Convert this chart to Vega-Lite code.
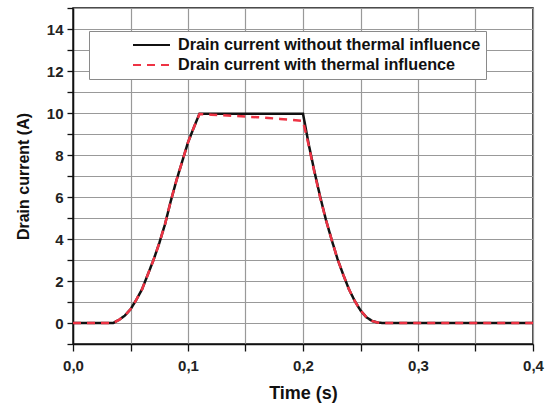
{
  "$schema": "https://vega.github.io/schema/vega-lite/v6.json",
  "width": 460,
  "height": 336,
  "autosize": "none",
  "padding": {"left": 73, "top": 8, "right": 18, "bottom": 65},
  "background": "white",
  "config": {
    "font": "Liberation Sans",
    "view": {"stroke": "#111111", "strokeWidth": 1.5}
  },
  "data": {
    "values": [
      {"t": 0, "I": 0, "series": "Drain current without thermal influence"},
      {"t": 0.035, "I": 0, "series": "Drain current without thermal influence"},
      {"t": 0.04, "I": 0.15, "series": "Drain current without thermal influence"},
      {"t": 0.045, "I": 0.35, "series": "Drain current without thermal influence"},
      {"t": 0.05, "I": 0.65, "series": "Drain current without thermal influence"},
      {"t": 0.055, "I": 1.1, "series": "Drain current without thermal influence"},
      {"t": 0.06, "I": 1.6, "series": "Drain current without thermal influence"},
      {"t": 0.065, "I": 2.3, "series": "Drain current without thermal influence"},
      {"t": 0.07, "I": 3.0, "series": "Drain current without thermal influence"},
      {"t": 0.075, "I": 3.8, "series": "Drain current without thermal influence"},
      {"t": 0.08, "I": 4.7, "series": "Drain current without thermal influence"},
      {"t": 0.085, "I": 5.8, "series": "Drain current without thermal influence"},
      {"t": 0.09, "I": 6.8, "series": "Drain current without thermal influence"},
      {"t": 0.095, "I": 7.7, "series": "Drain current without thermal influence"},
      {"t": 0.1, "I": 8.6, "series": "Drain current without thermal influence"},
      {"t": 0.105, "I": 9.3, "series": "Drain current without thermal influence"},
      {"t": 0.11, "I": 9.97, "series": "Drain current without thermal influence"},
      {"t": 0.2, "I": 9.97, "series": "Drain current without thermal influence"},
      {"t": 0.205, "I": 8.5, "series": "Drain current without thermal influence"},
      {"t": 0.21, "I": 7.2, "series": "Drain current without thermal influence"},
      {"t": 0.215, "I": 6.0, "series": "Drain current without thermal influence"},
      {"t": 0.22, "I": 4.9, "series": "Drain current without thermal influence"},
      {"t": 0.225, "I": 3.95, "series": "Drain current without thermal influence"},
      {"t": 0.23, "I": 3.05, "series": "Drain current without thermal influence"},
      {"t": 0.235, "I": 2.3, "series": "Drain current without thermal influence"},
      {"t": 0.24, "I": 1.6, "series": "Drain current without thermal influence"},
      {"t": 0.245, "I": 1.05, "series": "Drain current without thermal influence"},
      {"t": 0.25, "I": 0.6, "series": "Drain current without thermal influence"},
      {"t": 0.255, "I": 0.28, "series": "Drain current without thermal influence"},
      {"t": 0.26, "I": 0.1, "series": "Drain current without thermal influence"},
      {"t": 0.265, "I": 0.02, "series": "Drain current without thermal influence"},
      {"t": 0.27, "I": 0, "series": "Drain current without thermal influence"},
      {"t": 0.4, "I": 0, "series": "Drain current without thermal influence"},
      {"t": 0, "I": 0, "series": "Drain current with thermal influence"},
      {"t": 0.035, "I": 0, "series": "Drain current with thermal influence"},
      {"t": 0.04, "I": 0.15, "series": "Drain current with thermal influence"},
      {"t": 0.045, "I": 0.35, "series": "Drain current with thermal influence"},
      {"t": 0.05, "I": 0.65, "series": "Drain current with thermal influence"},
      {"t": 0.055, "I": 1.1, "series": "Drain current with thermal influence"},
      {"t": 0.06, "I": 1.6, "series": "Drain current with thermal influence"},
      {"t": 0.065, "I": 2.3, "series": "Drain current with thermal influence"},
      {"t": 0.07, "I": 3.0, "series": "Drain current with thermal influence"},
      {"t": 0.075, "I": 3.8, "series": "Drain current with thermal influence"},
      {"t": 0.08, "I": 4.7, "series": "Drain current with thermal influence"},
      {"t": 0.085, "I": 5.8, "series": "Drain current with thermal influence"},
      {"t": 0.09, "I": 6.8, "series": "Drain current with thermal influence"},
      {"t": 0.095, "I": 7.7, "series": "Drain current with thermal influence"},
      {"t": 0.1, "I": 8.6, "series": "Drain current with thermal influence"},
      {"t": 0.105, "I": 9.3, "series": "Drain current with thermal influence"},
      {"t": 0.11, "I": 9.95, "series": "Drain current with thermal influence"},
      {"t": 0.12, "I": 9.92, "series": "Drain current with thermal influence"},
      {"t": 0.13, "I": 9.89, "series": "Drain current with thermal influence"},
      {"t": 0.14, "I": 9.86, "series": "Drain current with thermal influence"},
      {"t": 0.15, "I": 9.83, "series": "Drain current with thermal influence"},
      {"t": 0.16, "I": 9.8, "series": "Drain current with thermal influence"},
      {"t": 0.17, "I": 9.76, "series": "Drain current with thermal influence"},
      {"t": 0.18, "I": 9.72, "series": "Drain current with thermal influence"},
      {"t": 0.19, "I": 9.68, "series": "Drain current with thermal influence"},
      {"t": 0.2, "I": 9.62, "series": "Drain current with thermal influence"},
      {"t": 0.205, "I": 8.45, "series": "Drain current with thermal influence"},
      {"t": 0.21, "I": 7.15, "series": "Drain current with thermal influence"},
      {"t": 0.215, "I": 5.95, "series": "Drain current with thermal influence"},
      {"t": 0.22, "I": 4.9, "series": "Drain current with thermal influence"},
      {"t": 0.225, "I": 3.95, "series": "Drain current with thermal influence"},
      {"t": 0.23, "I": 3.05, "series": "Drain current with thermal influence"},
      {"t": 0.235, "I": 2.3, "series": "Drain current with thermal influence"},
      {"t": 0.24, "I": 1.6, "series": "Drain current with thermal influence"},
      {"t": 0.245, "I": 1.05, "series": "Drain current with thermal influence"},
      {"t": 0.25, "I": 0.6, "series": "Drain current with thermal influence"},
      {"t": 0.255, "I": 0.28, "series": "Drain current with thermal influence"},
      {"t": 0.26, "I": 0.1, "series": "Drain current with thermal influence"},
      {"t": 0.265, "I": 0.02, "series": "Drain current with thermal influence"},
      {"t": 0.27, "I": 0, "series": "Drain current with thermal influence"},
      {"t": 0.4, "I": 0, "series": "Drain current with thermal influence"}
    ]
  },
  "encoding": {
    "x": {
      "field": "t",
      "type": "quantitative",
      "scale": {"domain": [0, 0.4], "nice": false, "zero": false},
      "axis": {
        "title": "Time (s)",
        "values": [0, 0.05, 0.1, 0.15, 0.2, 0.25, 0.3, 0.35, 0.4],
        "labelExpr": "round(datum.value*20)%2==0 ? replace(format(datum.value,'.1f'),'.',',') : ''",
        "labelFontSize": 15,
        "labelFontWeight": "bold",
        "labelColor": "#222222",
        "labelPadding": 7,
        "labelFlush": false,
        "titleFontSize": 18,
        "titleFontWeight": "bold",
        "titleColor": "#111111",
        "titlePadding": 11,
        "domainColor": "#111111",
        "domainWidth": 1.5,
        "tickColor": "#111111",
        "tickWidth": 1.3,
        "tickSize": 7,
        "grid": true,
        "gridColor": "#999999",
        "gridWidth": 1.2
      }
    },
    "y": {
      "field": "I",
      "type": "quantitative",
      "scale": {"domain": [-1, 15], "nice": false, "zero": false},
      "axis": {
        "title": "Drain current (A)",
        "values": [-1, 0, 1, 2, 3, 4, 5, 6, 7, 8, 9, 10, 11, 12, 13, 14, 15],
        "labelExpr": "(datum.value >= 0 && datum.value <= 14 && datum.value % 2 == 0) ? datum.value : ''",
        "labelFontSize": 15,
        "labelFontWeight": "bold",
        "labelColor": "#222222",
        "labelPadding": 4,
        "labelFlush": false,
        "titleFontSize": 16,
        "titleFontWeight": "bold",
        "titleColor": "#111111",
        "titlePadding": 15,
        "domainColor": "#111111",
        "domainWidth": 1.5,
        "tickColor": "#111111",
        "tickWidth": 1.3,
        "tickSize": 6,
        "grid": true,
        "gridColor": "#999999",
        "gridWidth": 1.2
      }
    },
    "color": {
      "field": "series",
      "type": "nominal",
      "scale": {
        "domain": ["Drain current without thermal influence", "Drain current with thermal influence"],
        "range": ["#111111", "#ee3344"]
      },
      "legend": {
        "title": null,
        "orient": "none",
        "legendX": 16,
        "legendY": 23,
        "fillColor": "white",
        "strokeColor": "#8a8a8a",
        "padding": 5,
        "symbolType": "stroke",
        "symbolSize": 1369,
        "symbolStrokeWidth": 2,
        "symbolOffset": 38,
        "labelOffset": 7,
        "clipHeight": 18,
        "rowPadding": 2,
        "labelFont": "Liberation Sans",
        "labelFontSize": 16.2,
        "labelFontWeight": "bold",
        "labelColor": "#111111",
        "labelLimit": 400
      }
    },
    "strokeDash": {
      "field": "series",
      "type": "nominal",
      "scale": {
        "domain": ["Drain current without thermal influence", "Drain current with thermal influence"],
        "range": [[1, 0], [8, 6]]
      },
      "legend": null
    }
  },
  "layer": [
    {
      "transform": [{"filter": "datum.series == 'Drain current without thermal influence'"}],
      "mark": {"type": "line", "strokeWidth": 2.5}
    },
    {
      "transform": [{"filter": "datum.series == 'Drain current with thermal influence'"}],
      "mark": {"type": "line", "strokeWidth": 2.5}
    }
  ]
}
